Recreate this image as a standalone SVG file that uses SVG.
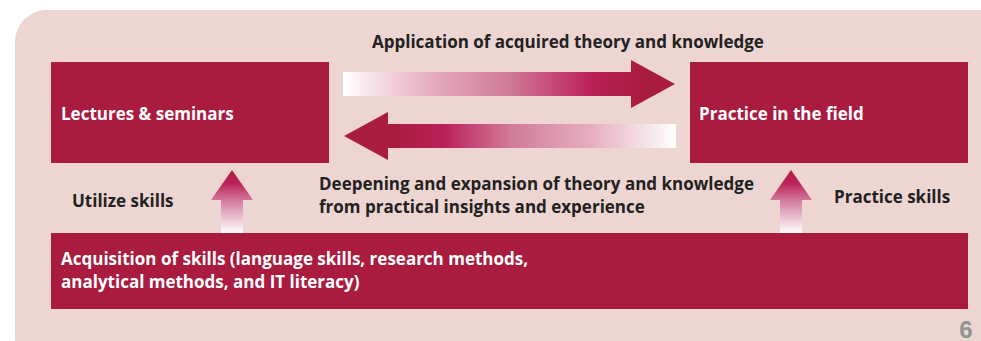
<svg xmlns="http://www.w3.org/2000/svg" width="981" height="341" viewBox="0 0 981 341">
<style>
.box{fill:#A91B3F}
.wt{fill:#fff;font-family:"Open Sans","Liberation Sans",sans-serif;font-weight:bold;font-size:17px}
.bt{fill:#222;font-family:"Open Sans","Liberation Sans",sans-serif;font-weight:bold;font-size:17px}
</style>
<defs>
<linearGradient id="gr" x1="0" y1="0" x2="1" y2="0">
<stop offset="0" stop-color="#ffffff"/>
<stop offset="0.25" stop-color="#e6b0c2"/>
<stop offset="0.5" stop-color="#d07a98"/>
<stop offset="0.75" stop-color="#bb2058"/>
<stop offset="0.9" stop-color="#A91B3F"/>
</linearGradient>
<linearGradient id="gl" x1="1" y1="0" x2="0" y2="0">
<stop offset="0" stop-color="#ffffff"/>
<stop offset="0.25" stop-color="#e6b0c2"/>
<stop offset="0.5" stop-color="#d07a98"/>
<stop offset="0.7" stop-color="#bb2058"/>
<stop offset="0.85" stop-color="#A91B3F"/>
</linearGradient>
<linearGradient id="gu" x1="0" y1="1" x2="0" y2="0">
<stop offset="0" stop-color="#ffffff"/>
<stop offset="0.5" stop-color="#d480a0"/>
<stop offset="0.8" stop-color="#bb2058"/>
<stop offset="1" stop-color="#B01E48"/>
</linearGradient>
</defs>
<rect x="15" y="10" width="1000" height="360" rx="32" fill="#EDD5D1"/>
<g id="lectures"><rect class="box" x="51" y="62" width="278" height="101"/><text class="wt" x="61" y="120">Lectures &amp; seminars</text></g>
<g id="practice"><rect class="box" x="690" y="62" width="278" height="101"/><text class="wt" x="699" y="120">Practice in the field</text></g>
<g id="acquisition"><rect class="box" x="51" y="233" width="917" height="76"/><text class="wt" x="61" y="265">Acquisition of skills (language skills, research methods,</text><text class="wt" x="61" y="288">analytical methods, and IT literacy)</text></g>
<g id="connectors">
<polygon points="343,72 631,72 631,60 675,84 631,108 631,96 343,96" fill="url(#gr)"/>
<polygon points="676,124 388,124 388,112 344,136 388,160 388,148 676,148" fill="url(#gl)"/>
<polygon points="221,233 221,200 211,200 232,170 253,200 243,200 243,233" fill="url(#gu)"/>
<polygon points="780,233 780,200 770,200 791,170 812,200 802,200 802,233" fill="url(#gu)"/>
<text class="bt" x="372" y="48">Application of acquired theory and knowledge</text>
<text class="bt" x="319" y="190">Deepening and expansion of theory and knowledge</text>
<text class="bt" x="319" y="213">from practical insights and experience</text>
<text class="bt" x="72" y="207">Utilize skills</text>
<text class="bt" x="834" y="203">Practice skills</text>
</g>
<text x="966" y="338" text-anchor="middle" font-family="Liberation Sans,sans-serif" font-weight="bold" font-size="24" fill="#8E9494">6</text>
</svg>
